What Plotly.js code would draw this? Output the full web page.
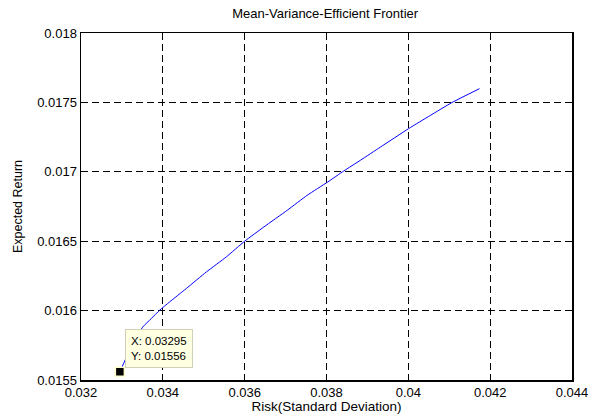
<!DOCTYPE html>
<html>
<head>
<meta charset="utf-8">
<script src="https://cdn.plot.ly/plotly-3.0.1.min.js"></script>
<style>html,body{margin:0;padding:0;background:#fff;}#chart{width:589px;height:414px;}</style>
</head>
<body>
<div id="chart"></div>
<script>
// Frontier (risk, return)
const risk = [0.03295, 0.03320, 0.03335, 0.03351, 0.033716, 0.033919, 0.034164, 0.034573, 0.035062, 0.035552, 0.03600, 0.036471, 0.037041, 0.037529, 0.038032, 0.038422, 0.038829, 0.039317, 0.040007, 0.040537, 0.04106, 0.041739];
const expectedReturn = [0.01556, 0.01572, 0.01580, 0.015882, 0.015942, 0.016002, 0.016062, 0.016159, 0.016278, 0.016387, 0.016500, 0.016603, 0.016723, 0.016831, 0.016927, 0.017006, 0.017083, 0.017178, 0.017311, 0.017406, 0.017498, 0.017599];

// Data tip
const tipX = [0.03295];
const tipY = [0.01556];
const tipText = "X: 0.03295<br>Y: 0.01556";

// Tick labels
const xTickVals = [0.032, 0.034, 0.036, 0.038, 0.040, 0.042, 0.044];
const xTickText = ["0.032", "0.034", "0.036", "0.038", "0.04", "0.042", "0.044"];
const yTickVals = [0.0155, 0.016, 0.0165, 0.017, 0.0175, 0.018];
const yTickText = ["0.0155", "0.016", "0.0165", "0.017", "0.0175", "0.018"];

const font = "Liberation Sans, Arial, sans-serif";

const traces = [
  {
    x: risk, y: expectedReturn, type: "scatter", mode: "lines",
    line: {color: "#0000ff", width: 1, shape: "spline", smoothing: 0.5}, hoverinfo: "skip"
  },
  {
    x: tipX, y: tipY, type: "scatter", mode: "markers",
    marker: {symbol: "square", size: 9, color: "#000000", line: {color: "#ffffcc", width: 1.5}},
    hoverinfo: "skip"
  }
];

const axisCommon = {
  showline: true, linecolor: "#000000", linewidth: 1.5, mirror: "ticks",
  ticks: "inside", ticklen: 5, tickcolor: "#000000", tickwidth: 1,
  showgrid: true, gridcolor: "#000000", gridwidth: 1, griddash: "7px,4px",
  zeroline: false, tickmode: "array",
  tickfont: {family: font, size: 13, color: "#000000"}
};

const layout = {
  width: 589, height: 414,
  margin: {l: 81, r: 17, t: 33, b: 34},
  paper_bgcolor: "#ffffff", plot_bgcolor: "#ffffff",
  showlegend: false,
  title: {text: "Mean-Variance-Efficient Frontier", font: {family: font, size: 13, color: "#000000"}, x: 0.552, xanchor: "center", y: 0.968, yanchor: "middle"},
  xaxis: Object.assign({}, axisCommon, {
    range: [0.032, 0.044], tickvals: xTickVals, ticktext: xTickText,
    title: {text: "Risk(Standard Deviation)", font: {family: font, size: 13.5, color: "#000000"}, standoff: 0}
  }),
  yaxis: Object.assign({}, axisCommon, {
    range: [0.0155, 0.018], tickvals: yTickVals, ticktext: yTickText,
    title: {text: "Expected Return", font: {family: font, size: 12.5, color: "#000000"}, standoff: 12}
  }),
  annotations: [{
    x: tipX[0], y: tipY[0], xref: "x", yref: "y",
    text: tipText, showarrow: false, align: "left",
    xanchor: "left", yanchor: "bottom", xshift: 5, yshift: 4,
    bgcolor: "#ffffe1", bordercolor: "#d0d0b8", borderwidth: 1, borderpad: 5,
    font: {family: font, size: 11.5, color: "#000000"}
  }]
};

Plotly.newPlot("chart", traces, layout, {displayModeBar: false, staticPlot: true});
</script>
</body>
</html>
